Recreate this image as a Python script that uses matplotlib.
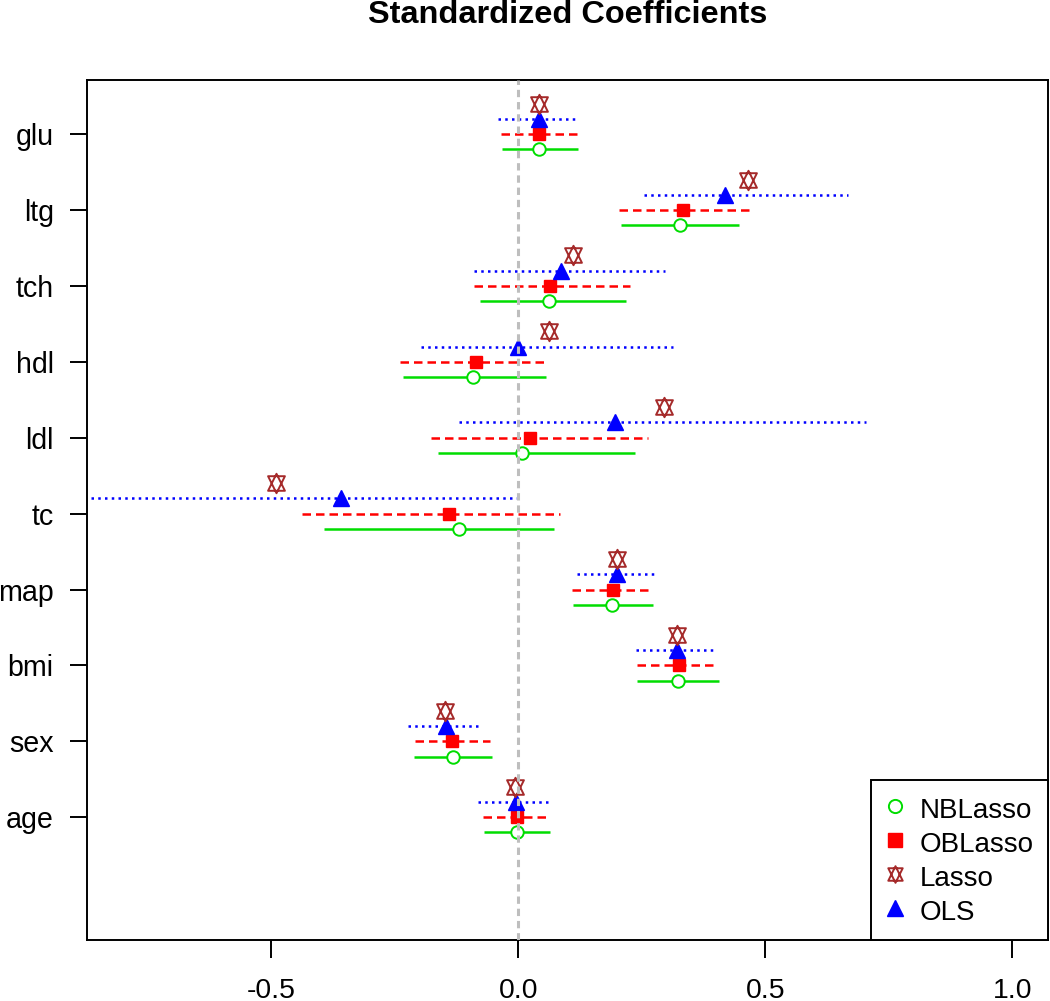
import matplotlib.pyplot as plt
from matplotlib.lines import Line2D
from matplotlib.path import Path

plt.rcParams['font.family'] = ['Liberation Sans', 'DejaVu Sans']
plt.rcParams['axes.unicode_minus'] = False

# variables, bottom to top
variables = ['age', 'sex', 'bmi', 'map', 'tc', 'ldl', 'hdl', 'tch', 'ltg', 'glu']

# OLS estimates and intervals
ols_est = [-0.005, -0.147, 0.322, 0.200, -0.359, 0.195, 0.000, 0.087, 0.418, 0.042]
ols_lo = [-0.081, -0.224, 0.239, 0.119, -0.920, -0.120, -0.198, -0.090, 0.255, -0.041]
ols_hi = [0.065, -0.080, 0.398, 0.280, 0.006, 0.703, 0.313, 0.297, 0.668, 0.120]

# OBLasso
ob_est = [-0.003, -0.135, 0.325, 0.192, -0.140, 0.023, -0.085, 0.064, 0.334, 0.041]
ob_lo = [-0.071, -0.210, 0.241, 0.108, -0.437, -0.176, -0.239, -0.090, 0.203, -0.036]
ob_hi = [0.056, -0.058, 0.398, 0.266, 0.084, 0.262, 0.057, 0.226, 0.471, 0.120]

# NBLasso
nb_est = [-0.003, -0.132, 0.324, 0.190, -0.121, 0.008, -0.092, 0.062, 0.327, 0.041]
nb_lo = [-0.069, -0.211, 0.241, 0.110, -0.394, -0.162, -0.233, -0.077, 0.207, -0.033]
nb_hi = [0.065, -0.053, 0.407, 0.272, 0.073, 0.236, 0.055, 0.217, 0.446, 0.120]

# Lasso point estimates
lasso_est = [-0.007, -0.149, 0.322, 0.200, -0.490, 0.295, 0.062, 0.110, 0.465, 0.042]

pos = list(range(1, len(variables) + 1))
y_ols = [p + 0.2 for p in pos]
y_lasso = [p + 0.4 for p in pos]
y_nb = [p - 0.2 for p in pos]

green = '#00DD00'
red = '#FF0000'
blue = '#0000FF'
brown = '#A52A2A'

# R pch=11 : triangle up and triangle down overlaid
hw = 0.866
star = Path(
    [(0, 1), (hw, -0.75), (-hw, -0.75), (0, 1),
     (0, -1), (hw, 0.75), (-hw, 0.75), (0, -1)],
    [Path.MOVETO, Path.LINETO, Path.LINETO, Path.CLOSEPOLY,
     Path.MOVETO, Path.LINETO, Path.LINETO, Path.CLOSEPOLY])

fig = plt.figure(figsize=(10.5, 10.01), dpi=100)
ax = fig.add_axes([87 / 1050, 61 / 1001, 961 / 1050, 860 / 1001])

# interval lines
ax.hlines(y_ols, ols_lo, ols_hi, colors=blue, linewidth=1.8,
          linestyles=(0, (1, 1.7)))
ax.hlines(pos, ob_lo, ob_hi, colors=red, linewidth=1.8,
          linestyles=(0, (3.4, 2.0)))
ax.hlines(y_nb, nb_lo, nb_hi, colors=green, linewidth=1.8)

# point estimates
ax.plot(nb_est, y_nb, 'o', mfc='white', mec=green, ms=9, mew=1.4,
        linestyle='none', zorder=4)
ax.plot(ob_est, pos, 's', color=red, ms=8.8, linestyle='none', zorder=4)
ax.plot(ols_est, y_ols, '^', color=blue, ms=12, linestyle='none', zorder=4)
ax.plot(lasso_est, y_lasso, marker=star, mfc='none', mec=brown, ms=14,
        mew=1.4, linestyle='none', zorder=4)

ax.axvline(0, color='#BEBEBE', linewidth=2.2, linestyle=(0, (2.4, 1.6)),
           zorder=5)

ax.set_xlim(-0.873, 1.072)
ax.set_ylim(-0.616, 10.711)
ax.set_xticks([-0.5, 0.0, 0.5, 1.0])
ax.set_xticklabels(['-0.5', '0.0', '0.5', '1.0'])
ax.set_yticks(pos)
ax.set_yticklabels(variables)
ax.tick_params(axis='x', length=13, width=1.4, pad=14, labelsize=20.4)
ax.tick_params(axis='y', length=12.5, width=1.4, pad=11.5, labelsize=20.6)
for s in ax.spines.values():
    s.set_linewidth(1.4)

fig.text(567.5 / 1050, 1 - 23 / 1001, 'Standardized Coefficients',
         ha='center', va='baseline', fontsize=23.4, fontweight='bold')

# legend
h_nb = Line2D([], [], marker='o', mfc='white', mec=green, ms=9.5, mew=1.4,
              linestyle='none')
h_ob = Line2D([], [], marker='s', color=red, ms=9.5, linestyle='none')
h_la = Line2D([], [], marker=star, mfc='none', mec=brown, ms=12, mew=1.4,
              linestyle='none')
h_ols = Line2D([], [], marker='^', color=blue, ms=11, linestyle='none')
leg = ax.legend([h_nb, h_ob, h_la, h_ols],
                ['NBLasso', 'OBLasso', 'Lasso', 'OLS'],
                loc='lower right', borderaxespad=0, fontsize=20,
                fancybox=False, framealpha=1, edgecolor='black',
                borderpad=0.5, handlelength=0.78, handletextpad=0.5,
                handleheight=1.32, labelspacing=0.12)
leg.get_frame().set_linewidth(1.4)

plt.savefig('out.png', dpi=100)
